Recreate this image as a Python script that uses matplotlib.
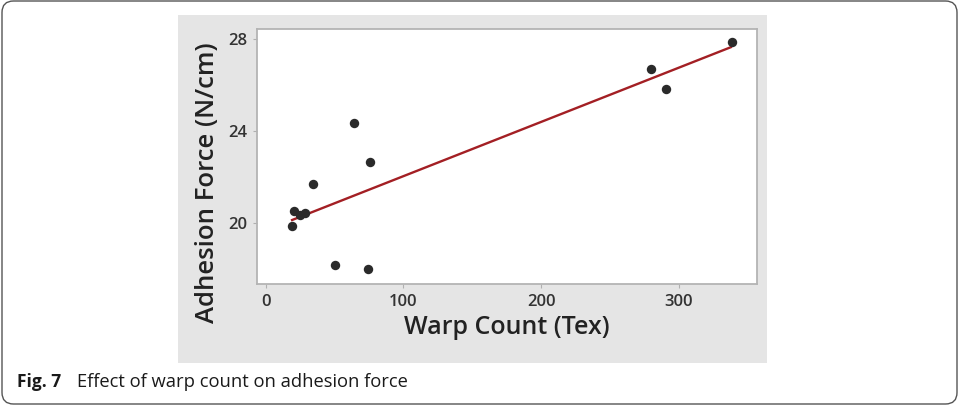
import matplotlib
matplotlib.use("Agg")
import matplotlib.pyplot as plt
from matplotlib.patches import FancyBboxPatch, Rectangle

# Data
warp_count = [19, 20.5, 25, 28.5, 34, 50, 64, 74, 76, 280, 291, 339]
adhesion = [19.87, 20.52, 20.33, 20.42, 21.7, 18.17, 24.35, 18.0, 22.67, 26.7, 25.84, 27.86]
fit_x = [19, 338]
fit_y = [20.13, 27.64]
x_ticks = [0, 100, 200, 300]
y_ticks = [20, 24, 28]

W, H = 959, 407
fig = plt.figure(figsize=(W / 100, H / 100), dpi=100)
fig.patch.set_facecolor("white")

def fx(px):
    return px / W

def fy(py):
    return 1 - py / H

# outer rounded frame
frame = FancyBboxPatch((fx(2), fy(404)), fx(955), (404 - 1) / H,
                       boxstyle="round,pad=0,rounding_size=0.012",
                       transform=fig.transFigure, fill=False,
                       edgecolor="#555555", linewidth=1.0, mutation_aspect=W / H,
                       zorder=-10)
fig.patches.append(frame)

# gray chart panel
panel = Rectangle((fx(178), fy(363)), fx(767 - 178), (363 - 15) / H,
                  transform=fig.transFigure, facecolor="#e5e5e5",
                  edgecolor="none", zorder=-10)
fig.patches.append(panel)

ax = fig.add_axes([fx(257), fy(284), fx(757 - 257), (284 - 29) / H])
ax.set_zorder(5)
ax.set_facecolor("white")
ax.scatter(warp_count, adhesion, s=46, color="#2a2a2a", zorder=3, linewidths=0)
ax.plot(fit_x, fit_y, color="#a31f24", linewidth=1.7, zorder=2)

ax.set_xlim(-6.5, 357)
ax.set_ylim(17.35, 28.43)
ax.set_xticks(x_ticks)
ax.set_yticks(y_ticks)
for s in ax.spines.values():
    s.set_color("#b4b4b4")
    s.set_linewidth(1.3)
ax.tick_params(axis="both", length=3, width=0.8, color="#b0b0b0",
               labelcolor="#333333", labelsize=12, pad=4)
for lab in ax.get_xticklabels() + ax.get_yticklabels():
    lab.set_fontfamily("Open Sans")
    lab.set_fontweight("semibold")

fig.text(fx(507), fy(327), "Warp Count (Tex)", ha="center", va="center",
         fontsize=18, family="Open Sans", fontweight="semibold", color="#222222")
fig.text(fx(207), fy(183), "Adhesion Force (N/cm)", ha="center", va="center",
         rotation=90, fontsize=18.5, family="Open Sans", fontweight="semibold",
         color="#222222")

# caption
fig.text(fx(17), fy(382), "Fig. 7", ha="left", va="center",
         fontsize=12.5, family="Open Sans", fontweight="bold", color="#1a1a1a")
fig.text(fx(77), fy(382), "Effect of warp count on adhesion force", ha="left",
         va="center", fontsize=13.2, family="Open Sans", color="#1a1a1a")

fig.savefig("out.png", dpi=100)
